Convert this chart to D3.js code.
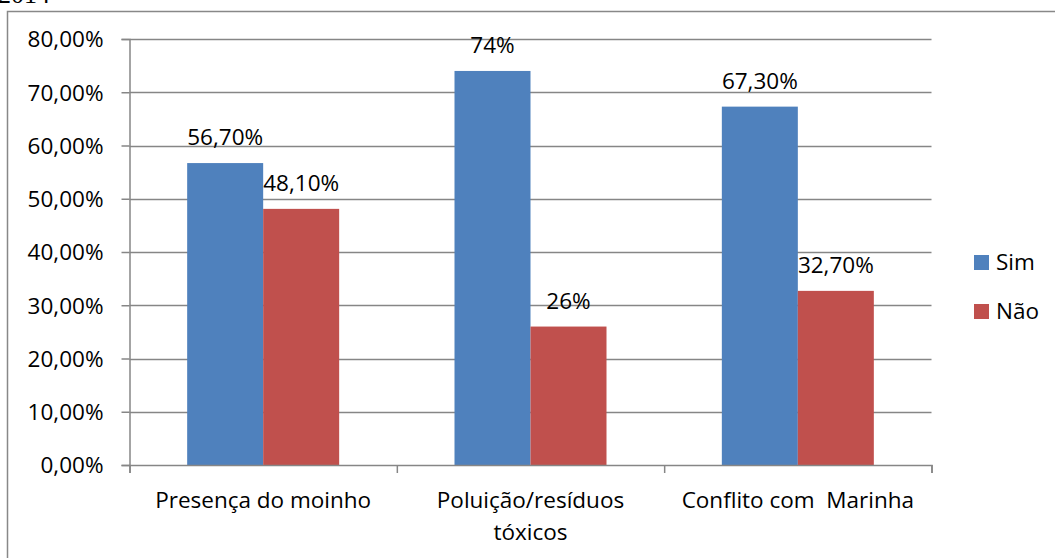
<!DOCTYPE html>
<html>
<head>
<meta charset="utf-8">
<script src="https://cdn.jsdelivr.net/npm/d3@7/dist/d3.min.js"></script>
<style>
  html, body { margin: 0; padding: 0; background: #fff; }
  svg { display: block; }
  text { font-family: "Open Sans", sans-serif; fill: #000; }
</style>
</head>
<body>
<svg id="chart" width="1055" height="558"></svg>
<script>
// Respostas por tema
const categories = [["Presença do moinho"], ["Poluição/resíduos", "tóxicos"], ["Conflito com\u00a0 Marinha"]];
const seriesNames = ["Sim", "Não"];
const simValues = [56.7, 74, 67.3];
const naoValues = [48.1, 26, 32.7];
const simLabels = ["56,70%", "74%", "67,30%"];
const naoLabels = ["48,10%", "26%", "32,70%"];
const yTicks = [0, 10, 20, 30, 40, 50, 60, 70, 80];
const colors = ["#4F81BD", "#C0504D"];

const svg = d3.select("#chart");
const fontSize = 22.5;

// Fragment of the caption line above the chart frame
svg.append("text")
  .attr("x", -2).attr("y", 3)
  .style("font-family", "'Liberation Serif', serif")
  .style("font-size", "26px")
  .text("2014");

// Chart frame
svg.append("path")
  .attr("d", "M7.5,600 V11.5 H1100")
  .attr("fill", "none")
  .attr("stroke", "#888")
  .attr("stroke-width", 1.5);

const plot = { left: 129.5, right: 931.5, top: 39, bottom: 465 };

const x = d3.scaleBand()
  .domain(d3.range(categories.length))
  .range([plot.left, plot.right])
  .paddingInner(0)
  .paddingOuter(0);

const y = d3.scaleLinear().domain([0, 80]).range([plot.bottom, plot.top]);

// Gridlines
svg.append("g")
  .selectAll("line")
  .data(yTicks.filter(d => d > 0))
  .join("line")
  .attr("x1", plot.left).attr("x2", plot.right)
  .attr("y1", d => Math.round(y(d)) + 0.5).attr("y2", d => Math.round(y(d)) + 0.5)
  .attr("stroke", "#868686").attr("stroke-width", 1.3);

// Bars
const groupWidth = 152;
const xs = d3.scaleBand()
  .domain([0, 1])
  .range([0, groupWidth]);

const series = [simValues, naoValues];
const labels = [simLabels, naoLabels];

series.forEach((vals, si) => {
  const g = svg.append("g");
  g.selectAll("rect")
    .data(vals)
    .join("rect")
    .attr("x", (d, i) => x(i) + (x.bandwidth() - groupWidth) / 2 + xs(si))
    .attr("y", d => y(d))
    .attr("width", xs.bandwidth())
    .attr("height", d => y(0) - y(d))
    .attr("fill", colors[si]);
  g.selectAll("text")
    .data(vals)
    .join("text")
    .attr("x", (d, i) => x(i) + (x.bandwidth() - groupWidth) / 2 + xs(si) + xs.bandwidth() / 2)
    .attr("y", d => y(d) - 18)
    .attr("text-anchor", "middle")
    .style("font-size", fontSize + "px")
    .text((d, i) => labels[si][i]);
});

// Y axis
const yAxis = d3.axisLeft(y)
  .tickValues(yTicks)
  .tickSize(8)
  .tickPadding(18)
  .tickFormat(d => d3.format(".2f")(d).replace(".", ",") + "%");

const yg = svg.append("g")
  .attr("transform", `translate(${plot.left},0)`)
  .call(yAxis);
yg.select(".domain").attr("stroke", "#868686").attr("stroke-width", 1.5);
yg.selectAll(".tick line").attr("stroke", "#868686").attr("stroke-width", 1.5);
yg.selectAll(".tick text")
  .style("font-size", fontSize + "px")
  .style("font-family", "'Open Sans', sans-serif")
  .attr("fill", "#000")
  .attr("dy", "0.35em");

// X axis
const xAxis = d3.axisBottom(d3.scaleLinear().domain([0, 3]).range([plot.left, plot.right]))
  .tickValues([0, 1, 2, 3])
  .tickSize(8)
  .tickFormat("");
const xg = svg.append("g")
  .attr("transform", `translate(0,${plot.bottom})`)
  .call(xAxis);
xg.select(".domain").attr("stroke", "#868686").attr("stroke-width", 1.5);
xg.selectAll(".tick line").attr("stroke", "#868686").attr("stroke-width", 1.5);

// Category labels
const catG = svg.append("g");
categories.forEach((lines, i) => {
  const t = catG.append("text")
    .attr("x", x(i) + x.bandwidth() / 2)
    .attr("y", 508)
    .attr("text-anchor", "middle")
    .style("font-size", fontSize + "px");
  lines.forEach((ln, j) => {
    t.append("tspan")
      .attr("x", x(i) + x.bandwidth() / 2)
      .attr("dy", j === 0 ? 0 : 32)
      .text(ln);
  });
});

// Legend
const legend = svg.append("g");
seriesNames.forEach((name, i) => {
  const ly = 262 + i * 49;
  legend.append("rect")
    .attr("x", 974).attr("y", ly - 7)
    .attr("width", 15).attr("height", 15)
    .attr("fill", colors[i]);
  legend.append("text")
    .attr("x", 996).attr("y", ly)
    .attr("dy", "0.35em")
    .style("font-size", fontSize + "px")
    .text(name);
});
</script>
</body>
</html>
